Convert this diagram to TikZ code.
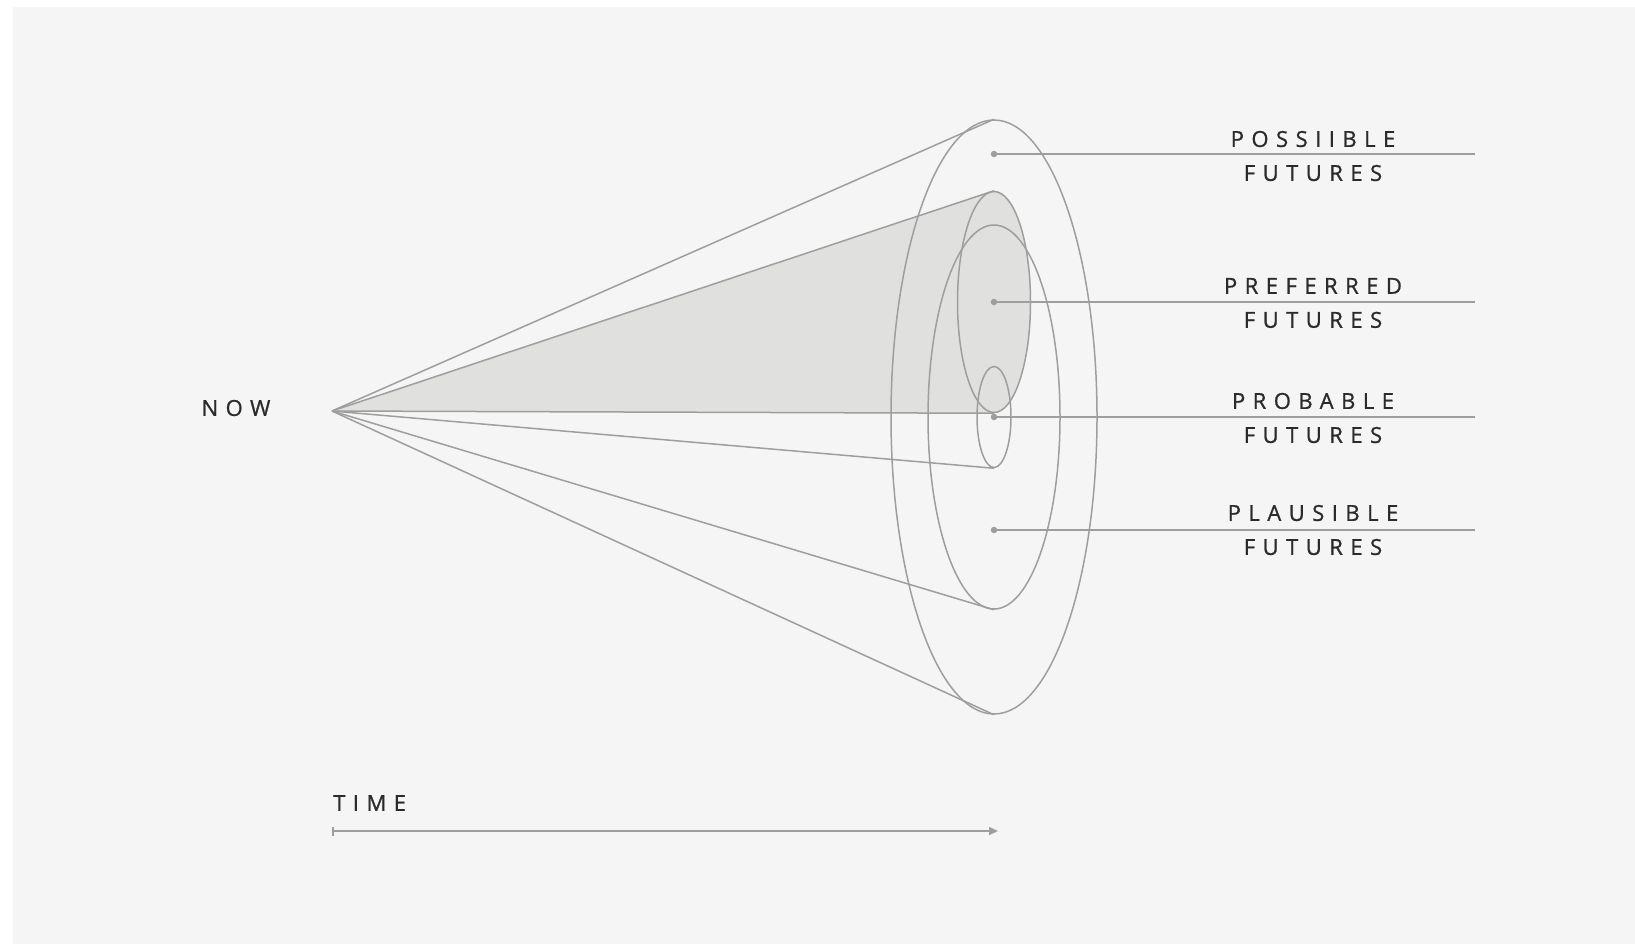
\documentclass[tikz,border=0pt]{standalone}
\usepackage{fontspec}
\setmainfont{Open Sans}
\newfontfamily\spaced[LetterSpace=34, FakeBold=0.9]{Open Sans}
\usetikzlibrary{shapes.geometric, arrows.meta, positioning, backgrounds}
\definecolor{panel}{HTML}{F4F5F4}
\definecolor{rim}{HTML}{9E9E9E}
\definecolor{conefill}{HTML}{E0E0DE}
\definecolor{ink}{HTML}{2B2B2B}

\begin{document}
\begin{tikzpicture}[
  x=1pt, y=-1pt,
  every node/.style={font=\spaced\fontsize{22}{34}\selectfont, text=ink},
  ring/.style={
    ellipse, draw=rim, line width=1.5pt, inner sep=0pt
  },
  dot/.style={circle, fill=rim, inner sep=0pt, minimum size=6.5pt},
  lead/.style={draw=rim, line width=1.5pt},
  tag/.style={align=center, inner sep=0pt},
  timeline/.style={draw=rim, line width=1.6pt,
    {Bar[width=9pt]}-{Triangle[length=9pt, width=8pt]}}
]

\useasboundingbox (0,0) rectangle (1635,946);

\node[ring, minimum width=206pt, minimum height=594pt] (possible)  at (994,417) {};
\node[ring, minimum width=73pt,  minimum height=221pt, fill=conefill] (preferred) at (994,302) {};
\node[ring, minimum width=132pt, minimum height=384pt] (plausible) at (994,417) {};
\node[ring, minimum width=34pt,  minimum height=101pt] (probable)  at (994,417) {};

\coordinate (apex) at (332,411);
\node (now) at (236,408) {NOW};

\begin{scope}[on background layer]
  \fill[panel] (13,7) rectangle (1635,944);
  \fill[conefill] (apex) -- (preferred.north) -- (preferred.south) -- cycle;
\end{scope}

% cone edges
\draw[lead] (apex) -- (possible.north);
\draw[lead] (apex) -- (preferred.north);
\draw[lead] (apex) -- (preferred.south);
\draw[lead] (apex) -- (probable.south);
\draw[lead] (apex) -- (plausible.south);
\draw[lead] (apex) -- (possible.south);

% markers and labels
\node[dot] (dpossible)  at (994,154) {};
\node[dot] (dpreferred) at (994,302) {};
\node[dot] (dprobable)  at (994,417) {};
\node[dot] (dplausible) at (994,530) {};

\coordinate (epossible)  at (1475,154);
\coordinate (epreferred) at (1475,302);
\coordinate (eprobable)  at (1475,417);
\coordinate (eplausible) at (1475,530);

\draw[lead] (dpossible)  -- (epossible);
\draw[lead] (dpreferred) -- (epreferred);
\draw[lead] (dprobable)  -- (eprobable);
\draw[lead] (dplausible) -- (eplausible);

\node[tag] (lpossible)  at (1313,156) {POSSIIBLE\\FUTURES};
\node[tag] (lpreferred) at (1313,303) {PREFERRED\\FUTURES};
\node[tag] (lprobable)  at (1313,418) {PROBABLE\\FUTURES};
\node[tag] (lplausible) at (1313,530) {PLAUSIBLE\\FUTURES};

% time axis
\node[anchor=west, inner sep=0pt] (time) at (333,803) {TIME};
\coordinate (tstart) at (332,831);
\coordinate (tend)   at (998,831);
\draw[timeline] (tstart) -- (tend);

\end{tikzpicture}
\end{document}
